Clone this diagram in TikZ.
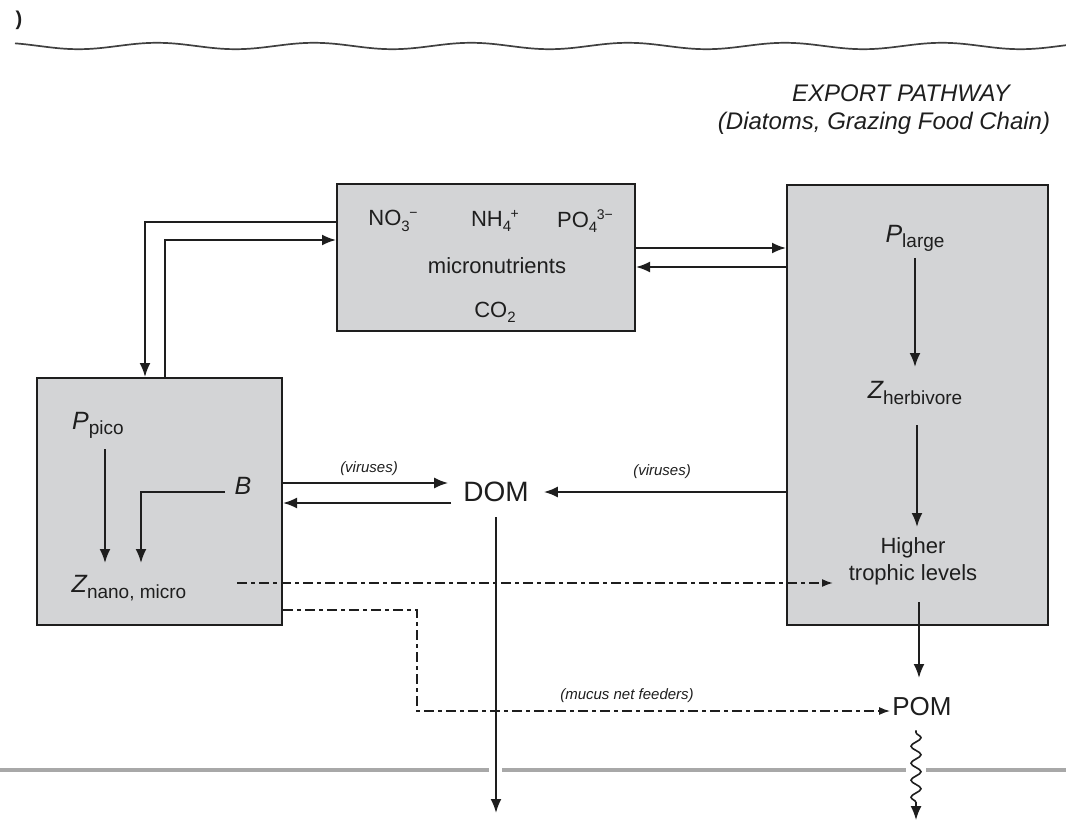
\documentclass[tikz,border=0pt]{standalone}
\usepackage{fontspec}
\setmainfont{Liberation Sans}
\usepackage{tikz}
\usetikzlibrary{calc,arrows.meta}
\usetikzlibrary{decorations.pathmorphing}
\definecolor{oc-box}{HTML}{D3D4D6}
\definecolor{oc-ink}{HTML}{1E1E1E}
\definecolor{oc-sea}{HTML}{A8A8A8}
\newcommand{\chemsub}[1]{\raisebox{-0.45ex}{\fontsize{15}{15}\selectfont #1}}
\newcommand{\highsup}[1]{\kern-0.5pt\raisebox{0.7ex}{\fontsize{14}{14}\selectfont #1}}
\newcommand{\poolsym}[2]{{\fontsize{25}{25}\selectfont\itshape #1}\raisebox{-0.45ex}{\fontsize{19}{19}\selectfont #2}}

\begin{document}
\begin{tikzpicture}[x=1pt, y=-1pt,
    box/.style={draw=oc-ink, line width=2pt, fill=oc-box, inner sep=0pt},
    txt/.style={inner sep=0pt, text=oc-ink, font=\fontsize{22}{27}\selectfont},
    note/.style={inner sep=0pt, text=oc-ink, font=\fontsize{15}{18}\selectfont\itshape},
    arr/.style={-{Latex[length=14pt,width=11pt]}, line width=2pt, draw=oc-ink},
    dasharr/.style={-{Latex[length=11pt,width=8pt]}, line width=1.7pt, draw=oc-ink,
        dash pattern=on 10pt off 4pt on 4pt off 4pt}]
    \useasboundingbox (0,0) rectangle (1066,821);

    % --- Sea surface and lower boundary ---
    \node[txt, font=\fontsize{20}{20}\selectfont\bfseries] (cut) at (19,20) {)};
    \draw[black!75, line width=1.7pt] plot[domain=15:1066, samples=300] (\x, {46-3.2*cos(2.293*\x)});
    \draw[oc-sea, line width=4.5pt] (0,770) -- (1066,770);
    \fill[white] (489,765) rectangle (502,775);
    \fill[white] (906,765) rectangle (926,775);

    % --- Pools ---
    \node[box, minimum width=298, minimum height=147] (nut) at (486,257.5) {};
    \node[box, minimum width=245, minimum height=247] (left) at (159.5,501.5) {};
    \node[box, minimum width=261, minimum height=440] (right) at (917.5,405) {};

    % --- Nutrient box ---
    \node[txt] (no3) at (393,221) {NO\chemsub{3}\highsup{−}};
    \node[txt] (nh4) at (495,221) {NH\chemsub{4}\highsup{+}};
    \node[txt] (po4) at (585,221) {PO\chemsub{4}\highsup{3−}};
    \node[txt] (micro) at (497,266) {micronutrients};
    \node[txt] (co2) at (495,312) {CO\chemsub{2}};

    % --- Regenerated pathway ---
    \node[txt] (ppico) at (98,425) {\poolsym{P}{pico}};
    \node[txt] (bact) at (243,489) {\poolsym{B}{}};
    \node[txt] (znano) at (129,588) {\poolsym{Z}{nano, micro}};

    % --- Export pathway ---
    \node[txt, font=\fontsize{24}{28}\selectfont\itshape] (export) at (901,93) {EXPORT PATHWAY};
    \node[txt, font=\fontsize{24}{28}\selectfont\itshape] (diatoms) at (884,123) {(Diatoms, Grazing Food Chain)};
    \node[txt] (plarge) at (915,238) {\poolsym{P}{large}};
    \node[txt] (zherb) at (915,393) {\poolsym{Z}{herbivore}};
    \node[txt, align=center] (higher) at (913,561) {Higher\\trophic levels};

    % --- Organic matter ---
    \node[txt, inner sep=15pt, font=\fontsize{28}{28}\selectfont] (dom) at (496,492) {DOM};
    \node[txt, inner sep=2pt, font=\fontsize{26}{26}\selectfont] (pom) at (922,707) {POM};
    \coordinate (domsink) at (496,813);
    \coordinate (pomsink) at (916,820);

    \node[note] (vir1) at (369,469) {(viruses)};
    \node[note] (vir2) at (662,472) {(viruses)};
    \node[note] (mucus) at (627,696) {(mucus net feeders)};

    % --- Nutrient exchange ---
    \draw[arr] ($(nut.west)+(0,-35.5)$) -| ($(left.north)+(-14.5,0)$);
    \draw[arr] ($(left.north)+(5.5,0)$) |- ($(nut.west)+(0,-17.5)$);
    \draw[arr] ($(nut.east)+(0,-9.5)$) -- ($(right.west)+(0,-157)$);
    \draw[arr] ($(right.west)+(0,-138)$) -- ($(nut.east)+(0,9.5)$);

    % --- Inside the pools ---
    \draw[arr] ($(ppico)+(7,24)$) -- ($(znano)+(-24,-25)$);
    \draw[arr] ($(bact)+(-18,3)$) -| ($(znano)+(12,-25)$);
    \draw[arr] ($(plarge)+(0,20)$) -- ($(zherb)+(0,-26)$);
    \draw[arr] ($(zherb)+(2,32)$) -- ($(higher)+(4,-34)$);

    % --- DOM fluxes ---
    \draw[arr] ($(left.east)+(0,-18.5)$) -- ($(dom.west)+(0,-9)$);
    \draw[arr] ($(dom.west)+(3,11)$) -- ($(left.east)+(0,1.5)$);
    \draw[arr] (right.west |- dom.east) -- (dom.east);
    \draw[arr] (dom.south) -- (dom.south |- domsink);

    % --- Particle fluxes ---
    \draw[dasharr] ($(znano)+(108,-5)$) -- ($(higher)+(-80,22)$);
    \draw[dasharr] ($(left.east)+(0,108.5)$) -- ++(134,0) |- ($(pom.west)+(0,4)$);
    \draw[arr] ($(higher)+(6,41)$) -- ($(pom)+(-3,-29)$);
    \draw[arr, line width=1.6pt, decorate, decoration={snake, amplitude=5pt, segment length=17pt, pre length=2pt, post length=14pt}]
        ($(pom.south)+(-6,12)$) -- (pomsink);
\end{tikzpicture}
\end{document}
